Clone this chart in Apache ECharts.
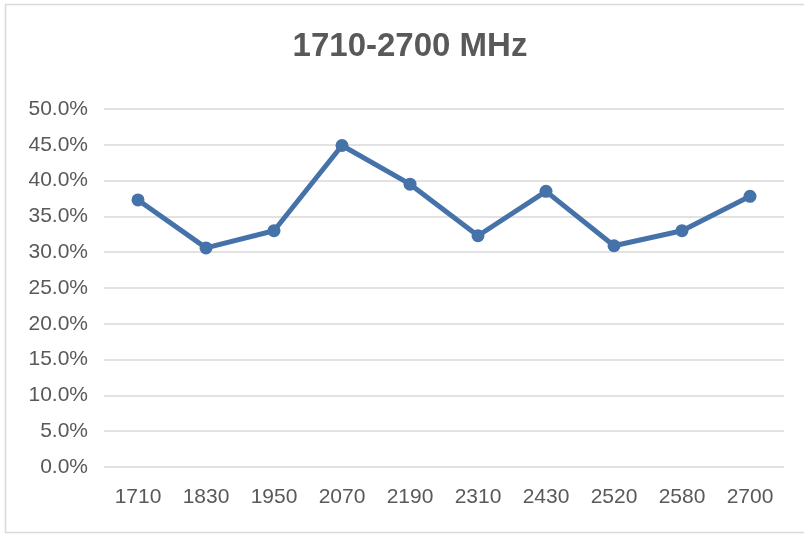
<!DOCTYPE html>
<html>
<head>
<meta charset="utf-8">
<script src="https://cdn.jsdelivr.net/npm/echarts@6/dist/echarts.min.js"></script>
<style>
html,body{margin:0;padding:0;background:#fff;}
#c{width:804px;height:534px;}
</style>
</head>
<body>
<div id="c"></div>
<script>
const titleText = '1710-2700 MHz';
const categories = ['1710','1830','1950','2070','2190','2310','2430','2520','2580','2700'];
const values = [37.3, 30.6, 33.0, 44.9, 39.5, 32.3, 38.5, 30.9, 33.0, 37.8];

const chart = echarts.init(document.getElementById('c'), null, {renderer:'canvas'});
chart.setOption({
  animation: false,
  backgroundColor: '#ffffff',
  graphic: [{
    type: 'rect',
    shape: {x: 5.5, y: 4.5, width: 820, height: 528},
    style: {fill: 'none', stroke: '#d9d9d9', lineWidth: 1.5},
    silent: true, z: -10
  }],
  title: {
    text: titleText,
    left: 410, top: 30, padding: 0,
    textAlign: 'center',
    textStyle: {fontFamily: 'Liberation Sans, Arial, sans-serif', fontWeight: 'bold', fontSize: 33, color: '#595959'}
  },
  grid: {left: 104, right: 20, top: 109, bottom: 67},
  xAxis: {
    type: 'category',
    data: categories,
    boundaryGap: true,
    axisLine: {show: false},
    axisTick: {show: false},
    axisLabel: {margin: 20, fontFamily: 'Liberation Sans, Arial, sans-serif', fontSize: 21, color: '#595959'}
  },
  yAxis: {
    type: 'value',
    min: 0, max: 50, interval: 5,
    axisLine: {show: false},
    axisTick: {show: false},
    splitLine: {lineStyle: {color: '#d9d9d9', width: 1.5}},
    axisLabel: {margin: 16, fontFamily: 'Liberation Sans, Arial, sans-serif', fontSize: 21, color: '#595959',
      formatter: v => v.toFixed(1) + '%'}
  },
  series: [{
    type: 'line',
    data: values,
    symbol: 'circle',
    symbolSize: 13,
    lineStyle: {color: '#4672aa', width: 5},
    itemStyle: {color: '#4672aa'}
  }]
});
</script>
</body>
</html>
